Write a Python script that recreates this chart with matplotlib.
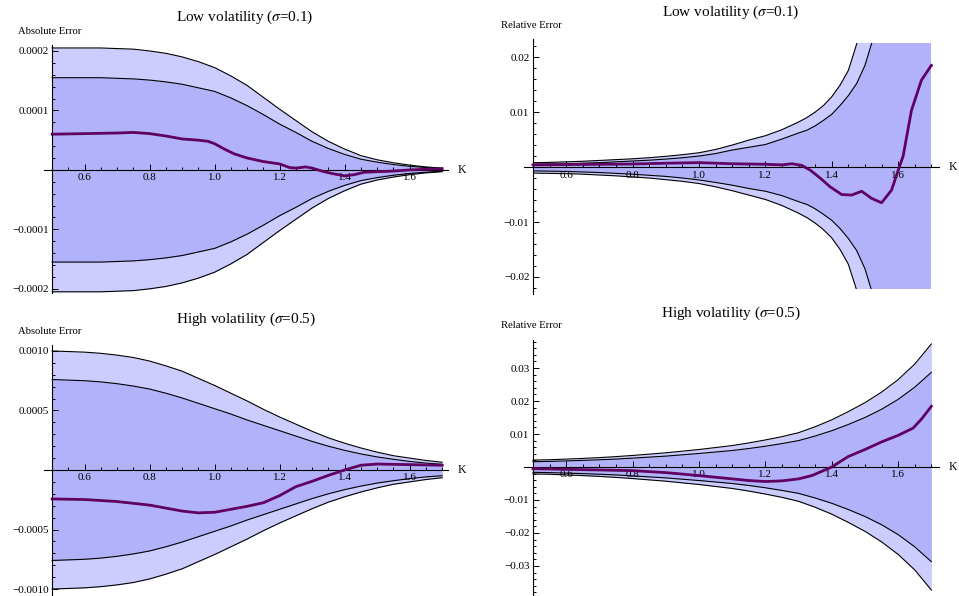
import matplotlib
matplotlib.use("Agg")
import matplotlib.pyplot as plt
import numpy as np
from matplotlib.ticker import MultipleLocator, FuncFormatter
from matplotlib.patches import Rectangle

plt.rcParams['font.family'] = ['Liberation Serif', 'DejaVu Serif']
plt.rcParams['mathtext.fontset'] = 'stix'

# strike grid for the error bands
K_band = [0.5, 0.55, 0.6, 0.65, 0.7, 0.75, 0.8, 0.85, 0.9, 0.95, 1.0, 1.05, 1.1,
          1.15, 1.2, 1.25, 1.3, 1.35, 1.4, 1.45, 1.5, 1.55, 1.6, 1.65, 1.7]

# low vol, absolute error (x1e-4), bands symmetric around 0
abs_low_outer = [2.05, 2.05, 2.05, 2.05, 2.04, 2.03, 2.00, 1.96, 1.90, 1.82, 1.72, 1.58, 1.42,
                 1.22, 1.02, 0.83, 0.64, 0.48, 0.35, 0.24, 0.17, 0.12, 0.08, 0.05, 0.03]
abs_low_inner = [1.55, 1.55, 1.55, 1.55, 1.54, 1.53, 1.51, 1.48, 1.44, 1.38, 1.32, 1.21, 1.08,
                 0.93, 0.77, 0.63, 0.48, 0.36, 0.26, 0.18, 0.13, 0.09, 0.06, 0.04, 0.02]
K_abs_low = [0.5, 0.6, 0.7, 0.75, 0.8, 0.85, 0.9, 0.95, 0.98, 1.0, 1.03, 1.06, 1.1, 1.15, 1.2,
             1.23, 1.25, 1.28, 1.3, 1.33, 1.36, 1.4, 1.43, 1.46, 1.5, 1.55, 1.6, 1.65, 1.7]
err_abs_low = [6.0, 6.1, 6.2, 6.3, 6.1, 5.7, 5.2, 5.0, 4.8, 4.4, 3.5, 2.7, 2.0, 1.4, 1.0,
               0.4, 0.3, 0.5, 0.3, -0.2, -0.6, -1.0, -0.8, -0.4, -0.3, -0.2, 0.0, 0.1, 0.2]

# low vol, relative error (x1e-2), finer grid where the bands blow up
K_rel_band = [0.5, 0.55, 0.6, 0.65, 0.7, 0.75, 0.8, 0.85, 0.9, 0.95, 1.0, 1.05, 1.1, 1.15,
              1.2, 1.25, 1.3, 1.325, 1.35, 1.375, 1.4, 1.425, 1.45, 1.475, 1.5, 1.525,
              1.55, 1.6, 1.65, 1.7]
rel_low_outer_hi = [0.08, 0.085, 0.095, 0.105, 0.12, 0.135, 0.15, 0.17, 0.195, 0.225, 0.26, 0.32,
                    0.40, 0.49, 0.57, 0.68, 0.82, 0.90, 1.00, 1.12, 1.28, 1.49, 1.76, 2.24,
                    2.9, 3.8, 5.0, 8.0, 12.0, 18.0]
rel_low_inner_hi = [0.05, 0.055, 0.06, 0.07, 0.08, 0.095, 0.11, 0.125, 0.145, 0.17, 0.20, 0.245,
                    0.31, 0.36, 0.41, 0.51, 0.62, 0.67, 0.75, 0.85, 0.96, 1.12, 1.30, 1.52,
                    1.85, 2.35, 2.9, 4.6, 7.0, 11.0]
rel_low_outer_lo = [-0.11, -0.115, -0.12, -0.13, -0.145, -0.16, -0.18, -0.20, -0.23, -0.26, -0.30,
                    -0.36, -0.43, -0.51, -0.59, -0.70, -0.84, -0.92, -1.02, -1.14, -1.29, -1.50,
                    -1.77, -2.24, -2.9, -3.8, -5.0, -8.0, -12.0, -18.0]
rel_low_inner_lo = [-0.07, -0.075, -0.08, -0.09, -0.10, -0.115, -0.13, -0.15, -0.17, -0.20, -0.235,
                    -0.28, -0.33, -0.39, -0.44, -0.52, -0.63, -0.68, -0.76, -0.86, -0.97, -1.12,
                    -1.30, -1.52, -1.85, -2.35, -2.9, -4.6, -7.0, -11.0]
K_rel_low = [0.5, 0.6, 0.7, 0.8, 0.9, 1.0, 1.1, 1.2, 1.25, 1.28, 1.31, 1.336, 1.365, 1.395, 1.43,
             1.46, 1.49, 1.52, 1.55, 1.58, 1.6, 1.615, 1.64, 1.67, 1.7]
err_rel_low = [0.04, 0.045, 0.05, 0.055, 0.07, 0.08, 0.06, 0.05, 0.04, 0.06, 0.03, -0.06, -0.2, -0.36,
               -0.50, -0.51, -0.44, -0.57, -0.65, -0.42, -0.06, 0.2, 1.03, 1.58, 1.85]

# high vol, absolute error (x1e-3)
abs_high_outer = [1.00, 0.995, 0.99, 0.98, 0.965, 0.945, 0.915, 0.875, 0.83, 0.77, 0.71, 0.645, 0.58,
                  0.51, 0.445, 0.385, 0.325, 0.27, 0.225, 0.185, 0.15, 0.12, 0.10, 0.08, 0.065]
abs_high_inner = [0.76, 0.755, 0.75, 0.74, 0.725, 0.705, 0.68, 0.645, 0.605, 0.56, 0.515, 0.47, 0.42,
                  0.375, 0.33, 0.285, 0.24, 0.2, 0.165, 0.135, 0.11, 0.09, 0.072, 0.058, 0.048]
K_abs_high = [0.5, 0.6, 0.7, 0.75, 0.8, 0.85, 0.9, 0.95, 1.0, 1.05, 1.1, 1.15, 1.2, 1.25, 1.3,
              1.35, 1.4, 1.45, 1.5, 1.6, 1.7]
err_abs_high = [-2.43, -2.48, -2.65, -2.8, -2.95, -3.2, -3.45, -3.6, -3.55, -3.3, -3.05, -2.75, -2.15,
                -1.4, -0.95, -0.45, 0.0, 0.4, 0.5, 0.45, 0.4]

# high vol, relative error (x1e-2)
rel_high_outer = [0.21, 0.22, 0.24, 0.26, 0.285, 0.315, 0.35, 0.39, 0.43, 0.48, 0.53, 0.59, 0.65,
                  0.73, 0.82, 0.92, 1.04, 1.22, 1.43, 1.68, 1.95, 2.27, 2.65, 3.12, 3.73]
rel_high_inner = [0.16, 0.17, 0.185, 0.20, 0.22, 0.24, 0.27, 0.30, 0.33, 0.37, 0.41, 0.455, 0.50,
                  0.56, 0.63, 0.71, 0.80, 0.94, 1.10, 1.29, 1.50, 1.75, 2.05, 2.42, 2.87]
K_rel_high = [0.5, 0.6, 0.7, 0.8, 0.9, 1.0, 1.1, 1.15, 1.2, 1.25, 1.3, 1.34, 1.37, 1.4, 1.45,
              1.5, 1.55, 1.6, 1.645, 1.67, 1.7]
err_rel_high = [-0.05, -0.07, -0.09, -0.11, -0.17, -0.26, -0.36, -0.41, -0.44, -0.42, -0.36, -0.26,
                -0.13, 0.0, 0.32, 0.53, 0.76, 0.96, 1.18, 1.45, 1.84]

light = '#ccccff'
dark = '#b2b2fa'
purple = '#600060'

W, H = 959, 596
fig = plt.figure(figsize=(W / 100, H / 100), dpi=100)


def px_axes(left, right, top, bottom):
    return fig.add_axes([left / W, 1 - bottom / H, (right - left) / W, (bottom - top) / H])


def style(ax, xlim, ylim, ymaj, ymin, fmt):
    ax.set_xlim(*xlim)
    ax.set_ylim(*ylim)
    ax.spines['top'].set_visible(False)
    ax.spines['right'].set_visible(False)
    ax.spines['bottom'].set_position(('data', 0))
    ax.spines['left'].set_position(('data', 0.5))
    for s in ('bottom', 'left'):
        ax.spines[s].set_linewidth(0.8)
        ax.spines[s].set_zorder(3.5)
    ax.xaxis.set_zorder(3.5)
    ax.yaxis.set_zorder(3.5)
    ax.xaxis.set_major_locator(MultipleLocator(0.2))
    ax.xaxis.set_minor_locator(MultipleLocator(0.05))
    ax.xaxis.set_major_formatter(FuncFormatter(lambda v, p: f"{v:.1f}"))
    ax.yaxis.set_major_locator(MultipleLocator(ymaj))
    ax.yaxis.set_minor_locator(MultipleLocator(ymin))
    ax.yaxis.set_major_formatter(FuncFormatter(
        lambda v, p: '' if abs(v) < ymaj / 10 else (fmt % v).replace('-', '\u2212')))
    ax.tick_params(which='both', direction='in', labelsize=8, width=0.7, pad=2.5)
    ax.tick_params(which='major', length=4)
    ax.tick_params(which='minor', length=2.2)
    ax.annotate('K', xy=(1, 0), xycoords=('axes fraction', 'data'), xytext=(10, 0),
                textcoords='offset points', ha='center', va='center', fontsize=8.5)


def bands(ax, K, o_hi, i_hi, o_lo, i_lo, clip=None):
    arts = [ax.fill_between(K, o_hi, o_lo, color=light, lw=0, zorder=1),
            ax.fill_between(K, i_hi, i_lo, color=dark, lw=0, zorder=2)]
    for c in (o_hi, i_hi, o_lo, i_lo):
        arts += ax.plot(K, c, color='black', lw=0.8, zorder=3)
    if clip is not None:
        for a in arts:
            a.set_clip_path(clip)


# top left: low vol absolute
ax1 = px_axes(44, 448, 45, 293)
o = np.array(abs_low_outer) * 1e-4
i = np.array(abs_low_inner) * 1e-4
bands(ax1, K_band, o, i, -o, -i)
ax1.plot(K_abs_low, np.array(err_abs_low) * 1e-5, color=purple, lw=2.0, zorder=4)
style(ax1, (0.475, 1.718), (-0.000207, 0.00021), 0.0001, 0.00002, '%.4f')

# top right: low vol relative
ax2 = px_axes(524, 939, 39, 294)
style(ax2, (0.473, 1.723), (-0.0231, 0.0233), 0.01, 0.002, '%.2f')
clip = Rectangle((0.5, -0.0222), 1.2, 0.0447, transform=ax2.transData)
bands(ax2, K_rel_band, np.array(rel_low_outer_hi) * 1e-2, np.array(rel_low_inner_hi) * 1e-2,
      np.array(rel_low_outer_lo) * 1e-2, np.array(rel_low_inner_lo) * 1e-2, clip=clip)
ax2.plot(K_rel_low, np.array(err_rel_low) * 1e-2, color=purple, lw=2.0, zorder=4)

# bottom left: high vol absolute
ax3 = px_axes(44, 448, 345, 595)
o = np.array(abs_high_outer) * 1e-3
i = np.array(abs_high_inner) * 1e-3
bands(ax3, K_band, o, i, -o, -i)
ax3.plot(K_abs_high, np.array(err_abs_high) * 1e-4, color=purple, lw=2.0, zorder=4)
style(ax3, (0.475, 1.718), (-0.00105, 0.00105), 0.0005, 0.0001, '%.4f')

# bottom right: high vol relative
ax4 = px_axes(524, 939, 340, 595)
o = np.array(rel_high_outer) * 1e-2
i = np.array(rel_high_inner) * 1e-2
bands(ax4, K_band, o, i, -o, -i)
ax4.plot(K_rel_high, np.array(err_rel_high) * 1e-2, color=purple, lw=2.0, zorder=4)
style(ax4, (0.473, 1.723), (-0.0388, 0.0385), 0.01, 0.002, '%.2f')

# titles and axis labels
titles = [(245, 17, r'Low volatility ($\sigma$=0.1)'),
          (731, 12, r'Low volatility ($\sigma$=0.1)'),
          (246, 319, r'High volatility ($\sigma$=0.5)'),
          (731, 313, r'High volatility ($\sigma$=0.5)')]
for x, y, t in titles:
    fig.text(x / W, 1 - y / H, t, ha='center', va='center', fontsize=11)

labels = [(18, 32, 'Absolute Error'), (501, 25, 'Relative Error'),
          (18, 332, 'Absolute Error'), (501, 326, 'Relative Error')]
for x, y, t in labels:
    fig.text(x / W, 1 - y / H, t, ha='left', va='center', fontsize=7.7)

fig.savefig('out.png', dpi=100)
